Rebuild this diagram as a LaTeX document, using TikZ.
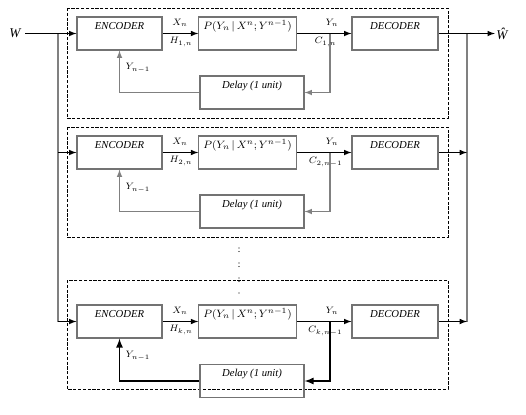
\documentclass[tikz,border=0pt]{standalone}
\usepackage{fontspec}
\setmainfont{Liberation Serif}
\begin{document}
\begin{tikzpicture}[x=0.75pt, y=-0.75pt, >=latex]
  \tikzstyle{box} = [draw=black!55, line width=0.9pt, minimum height=24.75pt, inner ysep=3pt, text height=6pt, text depth=12.75pt, font=\footnotesize\itshape];
  \tikzstyle{enc_box}   = [box, minimum width=63.75pt];
  \tikzstyle{chan_box}  = [box, minimum width=71.25pt];
  \tikzstyle{dec_box}   = [box, minimum width=64.5pt];
  \tikzstyle{delay_box} = [box, minimum width=78pt];
  \tikzstyle{wire}     = [line width=0.9pt];
  \tikzstyle{bus}      = [draw=black!50, line width=1.1pt];
  \tikzstyle{fb}       = [draw=black!50, line width=0.9pt];
  \tikzstyle{fb_thick} = [draw=black, line width=1.3pt];
  \tikzstyle{frame}    = [line width=0.6pt, dash pattern=on 2.4pt off 1.2pt];
  \tikzstyle{lbl}      = [font=\scriptsize, inner sep=1pt];

  \useasboundingbox (0, 0) rectangle (526, 415);

  % dashed frames
  \draw[frame] (67, 8)   rectangle (448, 118);
  \draw[frame] (67, 127) rectangle (448, 237);
  \draw[frame] (67, 280) rectangle (448, 389);

  % row 1
  \node[enc_box]   (enc1) at (119.5, 33.5) {ENCODER};
  \node[chan_box]  (ch1)  at (247.5, 33.5) {$P(Y_n\,|\,X^n;Y^{n-1})$};
  \node[dec_box]   (dec1) at (395, 33.5)   {DECODER};
  \node[delay_box] (del1) at (252, 92.5)   {Delay (1 unit)};

  % row 2
  \node[enc_box]   (enc2) at (119.5, 152.5) {ENCODER};
  \node[chan_box]  (ch2)  at (247.5, 152.5) {$P(Y_n\,|\,X^n;Y^{n-1})$};
  \node[dec_box]   (dec2) at (395, 152.5)   {DECODER};
  \node[delay_box] (del2) at (252, 211.5)   {Delay (1 unit)};

  % row 3
  \node[enc_box]   (enc3) at (119.5, 321.5) {ENCODER};
  \node[chan_box]  (ch3)  at (247.5, 321.5) {$P(Y_n\,|\,X^n;Y^{n-1})$};
  \node[dec_box]   (dec3) at (395, 321.5)   {DECODER};
  \node[delay_box] (del3) at (252, 381)     {Delay (1 unit)};

  % input and output
  \node (w)   at (15, 33.5)  {\itshape W};
  \node[inner sep=1pt] (hat) at (502, 33.5) {\itshape Ŵ};
  \coordinate (lb1) at (58, 33.5);
  \coordinate (lb2) at (58, 152.5);
  \coordinate (lb3) at (58, 321.5);
  \coordinate (rb1) at (467, 33.5);
  \coordinate (rb2) at (467, 152.5);
  \coordinate (rb3) at (467, 321.5);
  \coordinate (t1) at (330, 33.5);
  \coordinate (t2) at (330, 152.5);
  \coordinate (t3) at (330, 321.5);

  \draw[bus] (lb1) -- (lb3);
  \draw[bus] (rb1) -- (rb3);

  \draw[wire, ->] (w) -- (enc1);
  \draw[wire, ->] (lb2) -- (enc2);
  \draw[wire, ->] (lb3) -- (enc3);

  \draw[wire, ->] (enc1) -- (ch1);
  \draw[wire, ->] (enc2) -- (ch2);
  \draw[wire, ->] (enc3) -- (ch3);

  \draw[wire, ->] (ch1) -- (dec1);
  \draw[wire, ->] (ch2) -- (dec2);
  \draw[wire, ->] (ch3) -- (dec3);

  \draw[wire, ->] (dec1) -- (hat);
  \draw[wire, ->] (dec2) -- (rb2);
  \draw[wire, ->] (dec3) -- (rb3);

  % feedback
  \draw[fb, ->] (t1) |- (del1);
  \draw[fb, ->] (t2) |- (del2);
  \draw[fb_thick, ->] (t3) |- (del3);
  \draw[fb, ->] (del1) -| (enc1);
  \draw[fb, ->] (del2) -| (enc2);
  \draw[fb_thick, ->] (del3) -| (enc3);

  % labels
  \node[lbl] at (180, 23)  {$X_n$};
  \node[lbl] at (181, 42)  {$H_{1,n}$};
  \node[lbl] at (332, 23)  {$Y_n$};
  \node[lbl, anchor=east] at (338, 42)  {$C_{1,n}$};
  \node[lbl, anchor=west] at (124, 68)  {$Y_{n-1}$};

  \node[lbl] at (180, 142) {$X_n$};
  \node[lbl] at (181, 161) {$H_{2,n}$};
  \node[lbl] at (332, 142) {$Y_n$};
  \node[lbl, anchor=east] at (344, 162) {$C_{2,n-1}$};
  \node[lbl, anchor=west] at (124, 188) {$Y_{n-1}$};

  \node[lbl] at (180, 311) {$X_n$};
  \node[lbl] at (181, 330) {$H_{k,n}$};
  \node[lbl] at (332, 311) {$Y_n$};
  \node[lbl, anchor=east] at (344, 331) {$C_{k,n-1}$};
  \node[lbl, anchor=west] at (124, 356) {$Y_{n-1}$};

  % vertical dots
  \foreach \y in {248, 251.5, 263, 266.5, 278, 281.5, 293}
    \fill (239, \y) circle (0.45pt);
\end{tikzpicture}
\end{document}
